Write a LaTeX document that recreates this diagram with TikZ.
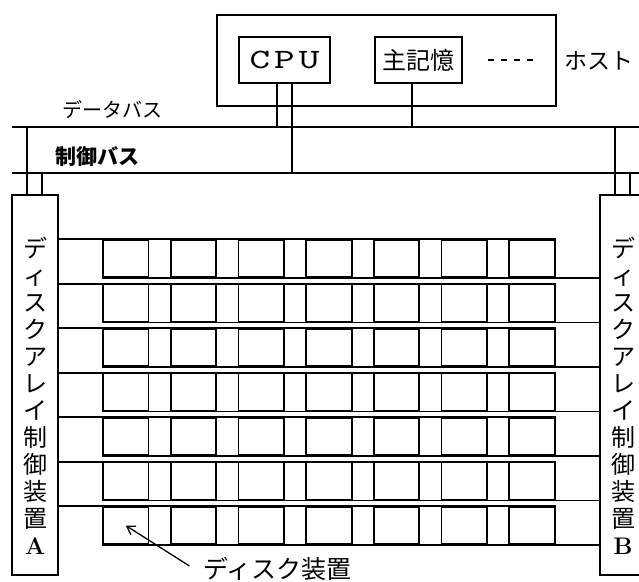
\documentclass[tikz,border=0pt]{standalone}
\usepackage{fontspec}
\newfontfamily\jp{Noto Sans CJK JP}
\newfontfamily\cpufont{lmmono10-regular.otf}[FakeStretch=1.4]
\usetikzlibrary{positioning,arrows.meta}

\tikzset{
  box/.style={draw, line width=1.8pt, inner sep=0pt},
  ctrl/.style={box, minimum width=46pt, minimum height=380pt},
  disk/.style={box, minimum width=45.5pt, minimum height=37pt},
  vtext/.style={font=\jp\fontsize{24}{27}\selectfont, align=center, inner sep=0pt},
  jplabel/.style={font=\jp\fontsize{#1}{#1}\selectfont, inner sep=0pt},
}

\begin{document}
\begin{tikzpicture}[x=1pt, y=-1pt, line width=1.8pt]
  \clip (0,0) rectangle (639,581);
  % host
  \node[box, minimum width=339pt, minimum height=91pt] (H) at (386.5,60.5) {};
  \node[box, minimum width=91pt, minimum height=46pt,
        font=\cpufont\fontsize{28}{28}\selectfont] (CPU) at (284.5,60) {C\kern4pt P\kern4pt U};
  \node[box, minimum width=87pt, minimum height=46pt, jplabel=24] (MEM) at (418.5,60) {主記憶};
  \coordinate (dots1) at (488,60);
  \coordinate (dots2) at (533,60);
  \draw[dash pattern=on 6pt off 7pt] (dots1) -- (dots2);
  \node[jplabel=23, right=7pt of H] (HL) {ホスト};

  % buses
  \coordinate (DBL) at (12,127);
  \coordinate (DBR) at (645,127);
  \coordinate (CBL) at (12,173);
  \coordinate (CBR) at (645,173);
  \draw (DBL) -- (DBR);
  \draw (CBL) -- (CBR);
  \node[jplabel=20] (DBtxt) at (112,110) {データバス};
  \node[jplabel=21] (CBtxt) at (97,157) {\bfseries 制御バス};

  \draw ([xshift=-7.5pt]CPU.south) -- ([xshift=-7.5pt]CPU.south |- DBL);
  \draw ([xshift=7.5pt]CPU.south) -- ([xshift=7.5pt]CPU.south |- CBL);
  \draw ([xshift=-6.5pt]MEM.south) -- ([xshift=-6.5pt]MEM.south |- DBL);

  % controllers
  \node[ctrl] (CA) at (35,385) {};
  \node[ctrl] (CB) at (623,385) {};
  \node[vtext] (CAtxt) at ([yshift=-11pt]CA.center)
    {デ\\ィ\\ス\\ク\\ア\\レ\\イ\\制\\御\\装\\置\\{\rmfamily\bfseries A}};
  \node[vtext] (CBtxt) at ([yshift=-11pt]CB.center)
    {デ\\ィ\\ス\\ク\\ア\\レ\\イ\\制\\御\\装\\置\\{\rmfamily\bfseries B}};
  \draw ([xshift=-8pt]CA.north) -- ([xshift=-8pt]CA.north |- DBL);
  \draw ([xshift=7pt]CA.north) -- ([xshift=7pt]CA.north |- CBL);
  \draw ([xshift=-8pt]CB.north) -- ([xshift=-8pt]CB.north |- DBL);
  \draw ([xshift=7pt]CB.north) -- ([xshift=7pt]CB.north |- CBL);

  % disk array
  \foreach \r in {1,...,7} {
    \foreach \c in {1,...,7}
      \node[disk] (D\r\c) at ({125.75+67.7*(\c-1)}, {258.5+44.5*(\r-1)}) {};
    \draw (CA.east |- D\r1.north) -- (D\r7.north east);
    \draw (D\r1.south west) -- (D\r1.south west -| CB.west);
  }

  \node[jplabel=25] (DL) at (277.5,569) {ディスク装置};
  \draw[line width=1.3pt, -{Straight Barb[length=8pt,width=10pt]}]
    ([shift={(-13,-3)}]DL.west) -- (D71.center);
\end{tikzpicture}
\end{document}
